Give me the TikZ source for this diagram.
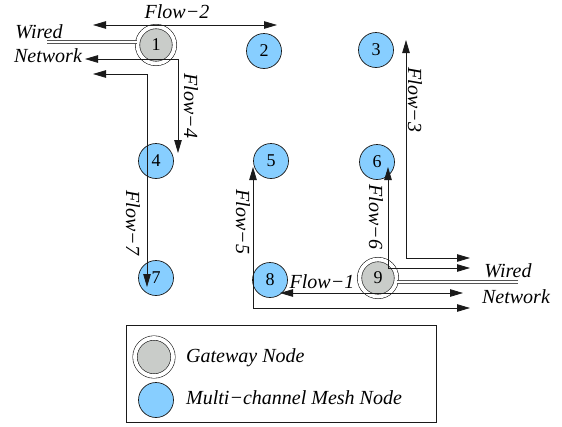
\documentclass[tikz,border=0pt]{standalone}
\usepackage{fontspec}
\setmainfont{Liberation Serif}
\usetikzlibrary{positioning,arrows.meta}
\definecolor{mesh}{HTML}{87CEFF}
\definecolor{gate}{HTML}{C9CCC9}
\definecolor{wire}{HTML}{555555}
\definecolor{ink}{HTML}{1A1A1A}

\begin{document}
\begin{tikzpicture}[x=1pt,y=-1pt,
  meshnode/.style={circle,draw=ink,fill=mesh,line width=.7pt,minimum size=35pt,inner sep=0pt,font=\fontsize{18}{20}\selectfont},
  gatenode/.style={circle,draw=ink,fill=gate,double=white,double distance=3.8pt,line width=.6pt,minimum size=37pt,inner sep=0pt,font=\fontsize{18}{20}\selectfont},
  flow/.style={arrows={Triangle[length=13pt,width=7.5pt]-Triangle[length=13pt,width=7.5pt]},draw=ink,line width=.8pt},
  wireline/.style={draw=wire,double=white,double distance=2pt,line width=.7pt},
  flowlabel/.style={font=\itshape\fontsize{20}{23}\selectfont,inner sep=0pt}]
  \useasboundingbox (0,0) rectangle (562,426);
  % nodes
  \node[gatenode] (n1) at (156,45){1};
  \node[meshnode] (n2) at (264,51){2};
  \node[meshnode] (n3) at (376,50){3};
  \node[meshnode] (n4) at (156,161){4};
  \node[meshnode] (n5) at (271,161){5};
  \node[meshnode] (n6) at (377,162){6};
  \node[meshnode] (n7) at (156,278){7};
  \node[meshnode] (n8) at (270,280){8};
  \node[gatenode] (n9) at (378,278){9};
  % wired network
  \coordinate (wl) at (47,42);
  \coordinate (wr) at (518,282);
  \draw[wireline] (wl) -- (wl -| n1.west);
  \draw[wireline] (n9.east |- wr) -- (wr);
  \node[flowlabel] (wl1) at (39,32){Wired};
  \node[flowlabel] (wl2) at (48,56){Network};
  \node[flowlabel] (wr1) at (508,271){Wired};
  \node[flowlabel] (wr2) at (516,297){Network};
  % flows
  \coordinate (f2a) at (93,25);
  \coordinate (f2b) at (277,25);
  \draw[flow] (f2a) -- (f2b);
  \node[flowlabel] (l2) at (177,12){Flow−2};
  \coordinate (f4a) at (85,59);
  \coordinate (f4c) at (178,59);
  \coordinate (f4b) at (178,153);
  \draw[flow] (f4a) -- (f4c) -- (f4b);
  \node[flowlabel,rotate=-90] (l4) at (191,106){Flow−4};
  \coordinate (f7a) at (93,74);
  \coordinate (f7c) at (147,74);
  \coordinate (f7b) at (147,287);
  \draw[flow] (f7a) -- (f7c) -- (f7b);
  \node[flowlabel,rotate=-90] (l7) at (133,223){Flow−7};
  \coordinate (f3a) at (406,40);
  \coordinate (f3c) at (406,258);
  \coordinate (f3b) at (470,258);
  \draw[flow] (f3a) -- (f3c) -- (f3b);
  \node[flowlabel,rotate=-90] (l3) at (415,100){Flow−3};
  \coordinate (f6a) at (388,167);
  \coordinate (f6c) at (388,268);
  \coordinate (f6b) at (470,268);
  \draw[flow] (f6a) -- (f6c) -- (f6b);
  \node[flowlabel,rotate=-90] (l6) at (376,217){Flow−6};
  \coordinate (f5a) at (253,167);
  \coordinate (f5c) at (253,308);
  \coordinate (f5b) at (470,308);
  \draw[flow] (f5a) -- (f5c) -- (f5b);
  \node[flowlabel,rotate=-90] (l5) at (243,222){Flow−5};
  \coordinate (f1a) at (280,293);
  \coordinate (f1b) at (463,293);
  \draw[flow] (f1a) -- (f1b);
  \node[flowlabel] (l1) at (322,282){Flow−1};
  % legend
  \draw[ink,line width=.7pt] (126,325) rectangle (436,422);
  \node[gatenode,minimum size=38pt] (lg) at (154,357){};
  \node[meshnode] (lm) at (156,400){};
  \node[flowlabel,anchor=west] (lgt) at (186,358){Gateway Node};
  \node[flowlabel,anchor=west] (lmt) at (186,398){Multi−channel Mesh Node};
\end{tikzpicture}
\end{document}
